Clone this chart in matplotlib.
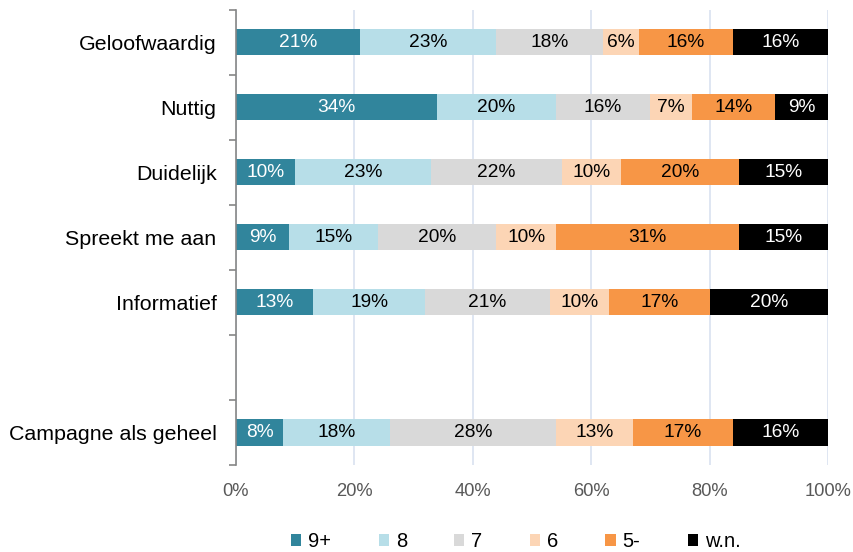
import matplotlib
matplotlib.use("Agg")
import matplotlib.pyplot as plt
import numpy as np

plt.rcParams['font.family'] = ['Liberation Sans', 'DejaVu Sans']

categories = ["Geloofwaardig", "Nuttig", "Duidelijk", "Spreekt me aan", "Informatief", "", "Campagne als geheel"]
series_names = ["9+", "8", "7", "6", "5-", "w.n."]
values = {
    "9+":   [21, 34, 10, 9, 13, None, 8],
    "8":    [23, 20, 23, 15, 19, None, 18],
    "7":    [18, 16, 22, 20, 21, None, 28],
    "6":    [6, 7, 10, 10, 10, None, 13],
    "5-":   [16, 14, 20, 31, 17, None, 17],
    "w.n.": [16, 9, 15, 15, 20, None, 16],
}
colors = ["#31859C", "#B7DEE8", "#D9D9D9", "#FCD5B5", "#F79646", "#000000"]
text_colors = ["white", "black", "black", "black", "black", "white"]

fig = plt.figure(figsize=(8.54, 5.52), dpi=100)
ax = fig.add_axes([0.2763, 0.1576, 0.9696 - 0.2763, 0.982 - 0.1576])

n = len(categories)
y = np.arange(n)
left = np.zeros(n)
for s, c, tc in zip(series_names, colors, text_colors):
    vals = np.array([v if v is not None else 0 for v in values[s]], dtype=float)
    ax.barh(y, vals, left=left, height=0.4, color=c, label=s, zorder=3)
    for i, v in enumerate(values[s]):
        if v is None:
            continue
        ax.text(left[i] + v / 2, y[i], f"{v}%", ha="center", va="center",
                color=tc, fontsize=13.8, zorder=4)
    left += vals

ax.set_xlim(0, 100)
ax.set_ylim(n - 0.5, -0.5)
ax.set_xticks(np.arange(0, 101, 20))
ax.set_xticklabels([f"{t}%" for t in range(0, 101, 20)], color="#595959", fontsize=13.2)
ax.set_yticks(y)
ax.set_yticklabels(categories, fontsize=15.4, color="black")
ax.set_yticks(np.arange(-0.5, n, 1), minor=True)
ax.tick_params(axis="y", which="major", length=0, pad=14)
ax.tick_params(axis="y", which="minor", length=5, color="#868686", width=1.2)
ax.tick_params(axis="x", length=0, pad=13)
ax.grid(axis="x", color="#D9E2F0", linewidth=1.2, zorder=0)
for sp in ["top", "right", "bottom"]:
    ax.spines[sp].set_visible(False)
ax.spines["left"].set_color("#868686")
ax.spines["left"].set_linewidth(1.2)
ax.spines["left"].set_zorder(5)

handles, labels = ax.get_legend_handles_labels()
leg = fig.legend(handles, labels, loc="center", bbox_to_anchor=(0.604, 0.019),
                 ncol=6, frameon=False, fontsize=14.5, handlelength=0.5, handleheight=0.5,
                 handletextpad=0.35, columnspacing=2.35, borderpad=0)

fig.savefig("out.png", dpi=100)
